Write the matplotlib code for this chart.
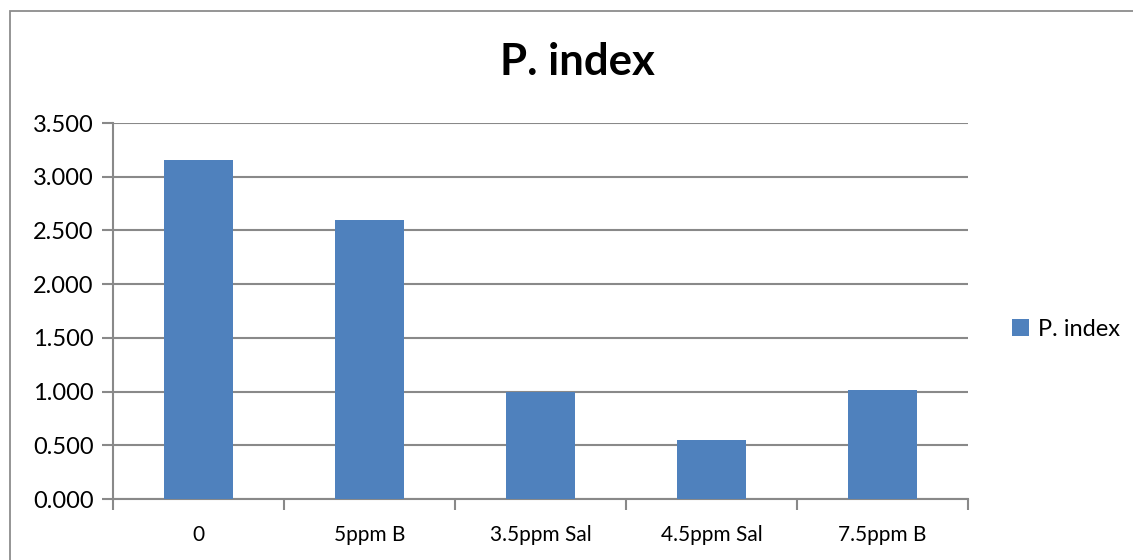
import matplotlib.pyplot as plt
from matplotlib.patches import Rectangle
from matplotlib.ticker import FuncFormatter

categories = ['0', '5ppm B', '3.5ppm Sal', '4.5ppm Sal', '7.5ppm B']
p_index = [3.155, 2.594, 0.996, 0.549, 1.010]
y_ticks = [0.0, 0.5, 1.0, 1.5, 2.0, 2.5, 3.0, 3.5]

plt.rcParams['font.family'] = ['Lato', 'DejaVu Sans']
grid_color = '#898989'
bar_color = '#4f81bd'

W, H = 1133, 560
fig = plt.figure(figsize=(W / 100, H / 100), dpi=100)
ax = fig.add_axes([113 / W, 1 - 499 / H, (968 - 113) / W, (499 - 123) / H])

x = list(range(len(categories)))
ax.bar(x, p_index, width=0.4, color=bar_color, zorder=3, label='P. index')

ax.set_xlim(-0.5, len(categories) - 0.5)
ax.set_ylim(0, 3.5)
ax.set_yticks(y_ticks)
ax.yaxis.set_major_formatter(FuncFormatter(lambda v, _: f'{v:.3f}'))
ax.grid(axis='y', color=grid_color, linewidth=1.5, zorder=0)

# boundary ticks between categories, labels centred on the bars
ax.set_xticks([i - 0.5 for i in range(len(categories) + 1)])
ax.set_xticklabels([])
ax.set_xticks(x, minor=True)
ax.set_xticklabels(categories, minor=True)
ax.tick_params(axis='x', which='major', length=8, width=1.5, color=grid_color)
ax.tick_params(axis='x', which='minor', length=0, pad=19, labelsize=15)
ax.tick_params(axis='y', length=8, width=1.5, color=grid_color, labelsize=17, pad=6)

for side in ['top', 'right']:
    ax.spines[side].set_visible(False)
for side in ['left', 'bottom']:
    ax.spines[side].set_color(grid_color)
    ax.spines[side].set_linewidth(1.5)

fig.text(577 / W, 1 - 62 / H, 'P. index', ha='center', va='center',
         fontsize=31.5, fontweight='bold')

fig.legend(loc='center left', bbox_to_anchor=(1003 / W, 1 - 329 / H),
           frameon=False, fontsize=17, handlelength=0.7, handleheight=0.7,
           handletextpad=0.4, borderaxespad=0)

# outer chart border
fig.patches.append(Rectangle((10.5 / W, -0.1), 1.2, 1 - 10.5 / H + 0.1,
                             transform=fig.transFigure, fill=False,
                             edgecolor='#8c8c8c', linewidth=1.3))

fig.savefig('out.png', dpi=100)
